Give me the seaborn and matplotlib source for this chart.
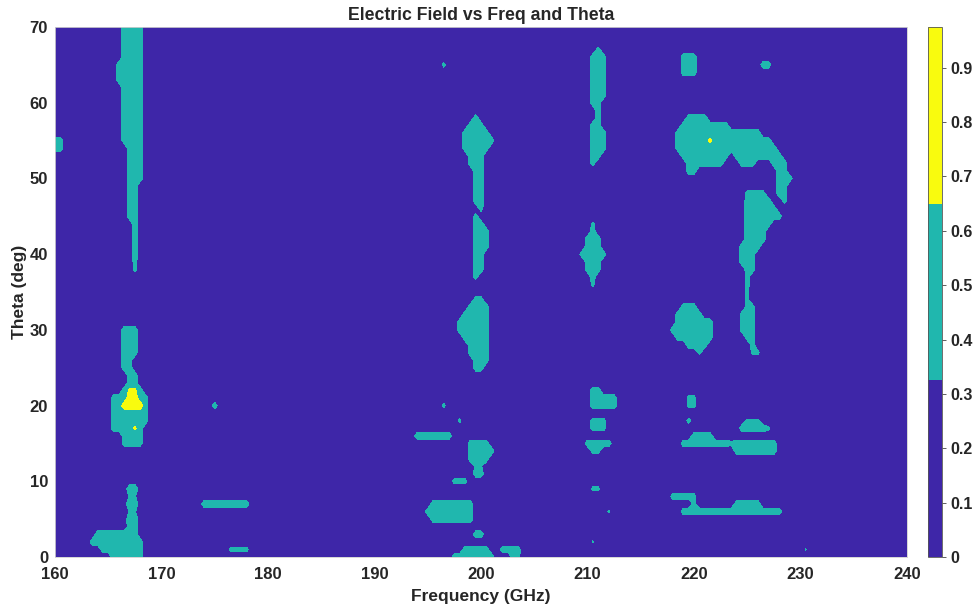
import numpy as np
import matplotlib
matplotlib.use("Agg")
import matplotlib.pyplot as plt
import seaborn as sns

sns.set_style("white")
plt.rcParams["font.family"] = ["Liberation Sans", "DejaVu Sans"]
plt.rcParams["font.weight"] = "bold"

# Sampling grid of the field map
freq_ghz = np.arange(160.0, 240.01, 0.5)
theta_deg = np.arange(0, 71, 1)
floor_level = 0.1

# Contour bands and colorbar
levels = [0.0, 0.325, 0.65, 0.975]
band_colors = sns.color_palette(["#3E26A8", "#20B7AE", "#F9FB0E"])
freq_ticks = [160, 170, 180, 190, 200, 210, 220, 230, 240]
theta_ticks = [0, 10, 20, 30, 40, 50, 60, 70]
cbar_ticks = [0, 0.1, 0.2, 0.3, 0.4, 0.5, 0.6, 0.7, 0.8, 0.9]

# Field level over patches of the grid: (f_lo, f_hi, theta_lo, theta_hi, level)
lobes_165 = [
    (160.0, 160.5, 54, 55, 0.5),
    (166.5, 168.0, 66, 70, 0.5),
    (166.0, 168.0, 63, 65, 0.5),
    (166.5, 168.0, 55, 62, 0.5),
    (167.0, 168.0, 50, 54, 0.5),
    (167.0, 167.5, 45, 49, 0.5),
    (167.5, 167.5, 40, 44, 0.55),
    (167.5, 167.5, 38, 39, 0.45),
    (166.5, 167.5, 27, 30, 0.5),
    (166.5, 167.0, 25, 26, 0.5),
    (167.0, 167.5, 22, 24, 0.5),
    (166.5, 168.0, 22, 22, 0.5),
    (165.5, 168.5, 18, 21, 0.5),
    (165.5, 168.0, 17, 17, 0.5),
    (166.5, 168.0, 15, 16, 0.45),
    (166.5, 168.0, 20, 20, 0.8),
    (167.0, 167.5, 21, 21, 0.8),
    (167.0, 167.5, 22, 22, 0.7),
    (167.5, 167.5, 17, 17, 0.7),
    (167.0, 167.5, 9, 9, 0.6),
    (167.0, 167.5, 8, 8, 0.36),
    (167.0, 167.5, 7, 7, 0.6),
    (167.0, 167.5, 6, 6, 0.36),
    (167.0, 167.5, 5, 5, 0.6),
    (167.0, 167.5, 4, 4, 0.5),
    (164.0, 167.5, 3, 3, 0.5),
    (163.5, 168.0, 2, 2, 0.5),
    (164.5, 168.0, 1, 1, 0.5),
    (165.5, 168.0, 0, 0, 0.5),
]

lobes_175 = [
    (174.0, 178.0, 7, 7, 0.5),
    (175.0, 175.0, 20, 20, 0.5),
    (176.5, 178.0, 1, 1, 0.42),
]

lobes_200 = [
    (196.5, 196.5, 65, 65, 0.42),
    (199.5, 199.5, 58, 58, 0.5),
    (199.0, 200.0, 57, 57, 0.5),
    (198.5, 200.5, 56, 56, 0.5),
    (198.5, 201.0, 55, 55, 0.5),
    (198.5, 200.5, 54, 54, 0.5),
    (199.0, 200.0, 52, 53, 0.5),
    (199.5, 200.0, 47, 51, 0.5),
    (200.0, 200.0, 46, 46, 0.45),
    (199.5, 199.5, 45, 45, 0.45),
    (199.5, 200.0, 44, 44, 0.5),
    (199.5, 200.5, 41, 43, 0.5),
    (199.5, 200.0, 38, 40, 0.5),
    (199.5, 199.5, 37, 37, 0.45),
    (199.5, 200.0, 34, 34, 0.45),
    (199.0, 200.5, 33, 33, 0.5),
    (198.5, 200.5, 32, 32, 0.5),
    (198.0, 200.5, 30, 31, 0.5),
    (198.5, 200.5, 29, 29, 0.5),
    (199.0, 200.5, 27, 28, 0.5),
    (199.5, 200.5, 26, 26, 0.5),
    (199.5, 200.0, 25, 25, 0.5),
    (196.5, 196.5, 20, 20, 0.42),
    (198.0, 198.0, 18, 18, 0.4),
    (194.0, 197.0, 16, 16, 0.5),
    (199.0, 200.5, 13, 15, 0.5),
    (201.0, 201.0, 14, 14, 0.5),
    (199.5, 200.0, 12, 12, 0.36),
    (199.5, 200.0, 11, 11, 0.5),
    (197.5, 198.5, 10, 10, 0.45),
    (195.5, 199.0, 5, 7, 0.5),
    (195.0, 195.0, 6, 6, 0.5),
    (199.5, 200.0, 3, 3, 0.5),
    (197.5, 201.0, 0, 0, 0.5),
    (198.5, 200.5, 1, 1, 0.5),
    (202.0, 203.5, 1, 1, 0.45),
    (203.0, 203.5, 0, 0, 0.42),
]

lobes_210 = [
    (211.0, 211.0, 67, 67, 0.45),
    (210.5, 211.5, 61, 66, 0.5),
    (210.5, 211.0, 60, 60, 0.5),
    (211.0, 211.0, 58, 59, 0.5),
    (210.5, 211.0, 57, 57, 0.5),
    (210.5, 211.5, 54, 56, 0.5),
    (210.5, 211.0, 53, 53, 0.5),
    (210.5, 210.5, 52, 52, 0.45),
    (210.5, 210.5, 44, 44, 0.4),
    (210.5, 210.5, 43, 43, 0.5),
    (210.0, 211.0, 41, 42, 0.5),
    (209.5, 211.5, 40, 40, 0.5),
    (210.0, 211.0, 38, 39, 0.5),
    (210.5, 210.5, 37, 37, 0.5),
    (210.5, 210.5, 36, 36, 0.42),
    (210.5, 212.5, 20, 21, 0.5),
    (210.5, 211.0, 22, 22, 0.5),
    (210.5, 211.5, 17, 18, 0.45),
    (210.0, 212.0, 15, 15, 0.5),
    (210.5, 211.0, 14, 14, 0.45),
    (210.5, 211.0, 9, 9, 0.4),
    (212.0, 212.0, 6, 6, 0.38),
    (210.5, 210.5, 2, 2, 0.36),
]

lobes_220 = [
    (219.0, 220.0, 64, 66, 0.5),
    (226.5, 227.0, 65, 65, 0.5),
    (219.5, 221.0, 58, 58, 0.5),
    (219.0, 223.0, 57, 57, 0.5),
    (218.5, 226.0, 56, 56, 0.5),
    (218.5, 227.0, 55, 55, 0.5),
    (218.5, 227.5, 54, 54, 0.5),
    (219.0, 223.0, 53, 53, 0.5),
    (224.0, 228.0, 53, 53, 0.5),
    (219.5, 222.5, 52, 52, 0.5),
    (224.5, 225.5, 52, 52, 0.5),
    (227.5, 228.5, 52, 52, 0.5),
    (219.5, 220.0, 51, 51, 0.5),
    (228.0, 228.5, 51, 51, 0.5),
    (228.0, 229.0, 50, 50, 0.5),
    (228.0, 228.5, 48, 49, 0.5),
    (228.5, 228.5, 47, 47, 0.42),
    (221.5, 221.5, 55, 55, 0.72),
    (225.0, 226.5, 48, 48, 0.45),
    (225.0, 227.0, 47, 47, 0.5),
    (225.0, 227.5, 46, 46, 0.5),
    (225.0, 228.0, 45, 45, 0.5),
    (225.0, 227.0, 44, 44, 0.5),
    (225.0, 226.5, 42, 43, 0.5),
    (224.5, 226.0, 41, 41, 0.5),
    (224.5, 225.5, 39, 40, 0.5),
    (225.0, 225.5, 38, 38, 0.5),
    (225.0, 225.0, 36, 37, 0.45),
    (225.0, 225.0, 34, 35, 0.4),
    (225.0, 225.5, 33, 33, 0.45),
    (224.5, 225.5, 30, 32, 0.45),
    (225.0, 225.5, 29, 29, 0.45),
    (225.5, 225.5, 28, 28, 0.45),
    (225.5, 226.0, 27, 27, 0.4),
    (219.0, 220.0, 33, 33, 0.5),
    (218.5, 220.5, 32, 32, 0.5),
    (218.5, 221.5, 31, 31, 0.5),
    (218.0, 221.5, 30, 30, 0.5),
    (218.5, 221.5, 29, 29, 0.5),
    (219.5, 221.0, 28, 28, 0.5),
    (220.5, 220.5, 27, 27, 0.4),
    (219.5, 220.0, 20, 21, 0.42),
    (219.5, 219.5, 18, 18, 0.45),
    (219.0, 223.0, 15, 15, 0.5),
    (220.0, 221.5, 16, 16, 0.5),
    (223.5, 223.5, 15, 15, 0.4),
    (224.0, 227.5, 14, 15, 0.5),
    (224.5, 226.5, 17, 17, 0.5),
    (227.0, 227.0, 17, 17, 0.4),
    (225.0, 226.0, 18, 18, 0.38),
    (218.0, 220.0, 8, 8, 0.45),
    (220.0, 220.0, 7, 7, 0.4),
    (219.0, 223.0, 6, 6, 0.5),
    (223.5, 228.0, 6, 6, 0.5),
    (224.0, 226.0, 7, 7, 0.5),
    (230.5, 230.5, 1, 1, 0.35),
]

# Assemble the field on the grid
F, T = np.meshgrid(freq_ghz, theta_deg)
field = np.full(F.shape, floor_level)
for group in (lobes_165, lobes_175, lobes_200, lobes_210, lobes_220):
    for f_lo, f_hi, t_lo, t_hi, lvl in group:
        inside = (F >= f_lo - 1e-9) & (F <= f_hi + 1e-9) & (T >= t_lo) & (T <= t_hi)
        field[inside] = np.maximum(field[inside], lvl)

fig = plt.figure(figsize=(9.74, 6.08), dpi=100)
ax = fig.add_axes([0.0565, 0.0839, 0.8747, 0.8717])
cs = ax.contourf(freq_ghz, theta_deg, field, levels=levels, colors=band_colors)

ax.set_xlim(160, 240)
ax.set_ylim(0, 70)
ax.set_xticks(freq_ticks)
ax.set_yticks(theta_ticks)
ax.tick_params(length=0, labelsize=12)
ax.tick_params(axis="x", pad=7)
ax.tick_params(axis="y", pad=5)
for lab in ax.get_xticklabels() + ax.get_yticklabels():
    lab.set_fontweight("bold")
for sp in ax.spines.values():
    sp.set_color("#d0d0d0")
    sp.set_linewidth(0.6)

ax.set_xlabel("Frequency (GHz)", fontsize=12.5, fontweight="bold", labelpad=5)
ax.set_ylabel("Theta (deg)", fontsize=12.5, fontweight="bold", labelpad=2)
ax.set_title("Electric Field vs Freq and Theta", fontsize=12.7, fontweight="bold", pad=5)

cax = fig.add_axes([0.9528, 0.0839, 0.0144, 0.8717])
cb = fig.colorbar(cs, cax=cax, ticks=cbar_ticks)
cb.ax.set_yticklabels([f"{v:g}" for v in cbar_ticks])
cb.ax.tick_params(length=3, width=0.6, labelsize=11.5, pad=3, color="#444444")
for lab in cb.ax.get_yticklabels():
    lab.set_fontweight("bold")
cb.outline.set_linewidth(0.6)
cb.outline.set_edgecolor("#555555")

fig.savefig("out.png", dpi=100)
